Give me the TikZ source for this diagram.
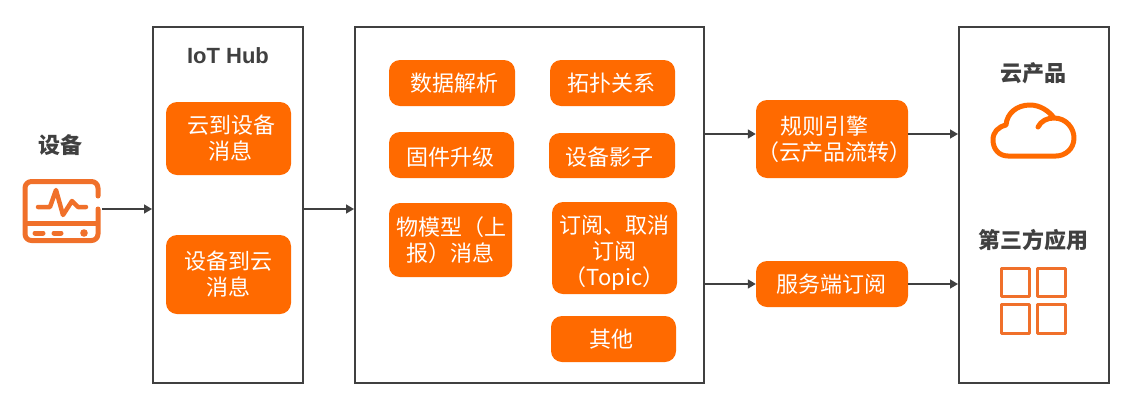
\documentclass[tikz,border=0pt]{standalone}
\usepackage{fontspec}
\setmainfont{Noto Sans CJK SC}
\usetikzlibrary{arrows.meta}
\definecolor{boxor}{HTML}{FF6A00}
\definecolor{iconor}{HTML}{F0702A}
\definecolor{edge}{HTML}{404040}
\tikzset{
  panel/.style={draw=edge,line width=2pt,fill=white,inner sep=0pt},
  tag/.style={fill=boxor,rounded corners=11pt,text=white,inner sep=0pt,align=center,font=\fontsize{22}{26}\selectfont},
  head/.style={text=edge,inner sep=0pt,font=\fontsize{22}{26}\selectfont\bfseries},
  arr/.style={draw=edge,line width=1.6pt,-{Triangle[length=8pt,width=9pt]}},
  ghost/.style={inner sep=0pt,draw=none}
}
\newcommand{\bx}[6][tag]{\node[#1,minimum width=#4pt-#3pt,minimum height=#6pt-#5pt] (#2) at ({(#3+#4)/2},{(#5+#6)/2})}
\newcommand{\nudge}[1]{\hspace*{#1pt}}
\begin{document}
\begin{tikzpicture}[x=1pt,y=-1pt]
\useasboundingbox (0,0) rectangle (1136,408);
\bx[panel]{iot}{153}{303}{27}{383} {};
\bx[panel]{mid}{355}{704}{27}{383} {};
\bx[panel]{out}{959}{1109}{27}{383} {};
\node[head] (hdev) at (60,145) {设备};
\node[head] (hiot) at (228,56) {\fontspec{Liberation Sans}\bfseries IoT Hub};
\node[head] (hcloud) at (1033,73) {云产品};
\node[head] (hthird) at (1033,240) {第三方应用};
\bx{c2d}{166}{291}{102}{175} {\nudge{5}云到设备\\\nudge{4}消息};
\bx{d2c}{166}{291}{235}{314} {设备到云\\消息};
\bx{parse}{389}{515}{60}{106} {\nudge{4}数据解析};
\bx{topo}{550}{675}{60}{106} {\nudge{-3}拓扑关系};
\bx{fw}{389}{514}{132}{178} {\nudge{-3}\rule{0pt}{22pt}固件升级};
\bx{shadow}{549}{675}{133}{178} {\nudge{-5}\rule{0pt}{22pt}设备影子};
\bx{tsl}{389}{512}{203}{277} {\nudge{2}物模型（上\\报）消息};
\bx{sub}{552}{677}{202}{294} {\rule{0pt}{28pt}订阅、取消\\订阅\\（Topic）};
\bx{other}{551}{676}{316}{362} {\nudge{-5}其他};
\bx{rule}{756}{908}{100}{178} {规则引擎\hspace*{16pt}\\\makebox[130pt]{\hspace*{4pt}（云产品流转）}};
\bx{srv}{756}{908}{261}{307} {\nudge{-2}服务端订阅};
% device icon
\bx[ghost]{dev}{22}{102}{179}{243} {};
\begin{scope}[draw=iconor,line width=5pt,line cap=round,line join=round]
\draw (98,196) -- (98,188) arc[start angle=0,end angle=-90,radius=6.5] -- (31.5,181.5) arc[start angle=-90,end angle=-180,radius=6.5] -- (25,234) arc[start angle=180,end angle=90,radius=6.5] -- (91.5,240.5) arc[start angle=90,end angle=0,radius=6.5] -- (98,209);
\draw[line cap=butt] (25,223) -- (98,223);
\draw[line width=4.5pt] (38,207) -- (50,207) -- (56,190) -- (63,215) -- (72,201) -- (78,207) -- (86,207);
\draw (35,233) -- (43,233) (54,233) -- (61,233);
\fill[iconor] (84,233) circle (3.8);
\end{scope}
% cloud icon
\draw[boxor,line width=5pt,line cap=round,line join=round]
 (1038,127) .. controls (1041,121) and (1047,118) .. (1054,118)
 .. controls (1066,118) and (1074,128) .. (1074,138)
 .. controls (1074,149) and (1065,156) .. (1056,156)
 -- (1008,156)
 .. controls (999,156) and (993,149) .. (993,140)
 .. controls (993,132) and (998,127) .. (1006,125)
 .. controls (1007,113) and (1017,105) .. (1030,105)
 .. controls (1040,105) and (1049,111) .. (1054,118);
% grid icon
\begin{scope}[draw=iconor,line width=3.2pt,line join=round]
\draw (1001.5,268.5) rectangle (1029.5,296.5);
\draw (1037.5,268.5) rectangle (1065.5,296.5);
\draw (1001.5,304.5) rectangle (1029.5,333.5);
\draw (1037.5,304.5) rectangle (1065.5,333.5);
\end{scope}
% connectors
\coordinate (d1) at (102,209);
\coordinate (m1) at (303,209);
\coordinate (r1) at ([yshift=5pt]rule.west);
\coordinate (r2) at ([yshift=5pt]rule.east);
\draw[arr] (d1) -- (d1 -| iot.west);
\draw[arr] (m1) -- (m1 -| mid.west);
\draw[arr] (r1 -| mid.east) -- (r1);
\draw[arr] (r2) -- (r2 -| out.west);
\draw[arr] (srv.west -| mid.east) -- (srv.west);
\draw[arr] (srv.east) -- (srv.east -| out.west);
\end{tikzpicture}
\end{document}
